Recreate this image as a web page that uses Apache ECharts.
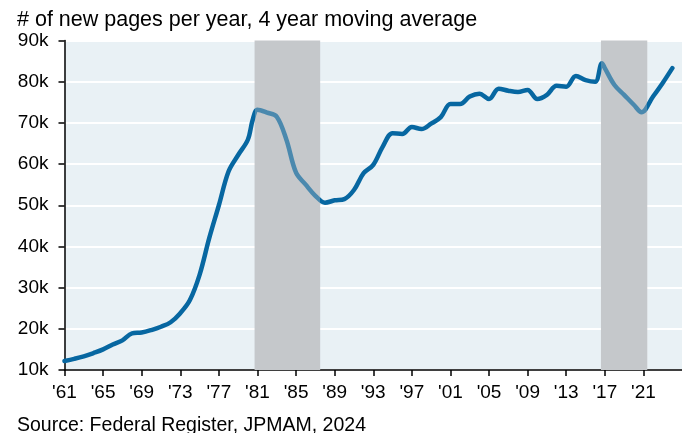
<!DOCTYPE html>
<html>
<head>
<meta charset="utf-8">
<script src="https://cdn.jsdelivr.net/npm/echarts@6/dist/echarts.min.js"></script>
<style>
  html, body { margin: 0; padding: 0; background: #fff; }
  #chart { width: 682px; height: 433px; }
</style>
</head>
<body>
<div id="chart"></div>
<script>
// years and new pages per year (thousands), 4 year moving average
const years = [1961, 1962, 1963, 1964, 1965, 1966, 1967, 1968, 1969, 1970,
  1971, 1972, 1973, 1974, 1975, 1976, 1977, 1978, 1979, 1980, 1980.5,
  1981, 1982, 1983, 1984, 1985, 1986, 1987, 1988, 1989, 1990,
  1991, 1992, 1993, 1994, 1995, 1996, 1997, 1998, 1999, 2000,
  2001, 2002, 2003, 2004, 2005, 2006, 2007, 2008, 2009, 2010,
  2011, 2012, 2013, 2014, 2015, 2016, 2016.7, 2017, 2018, 2019, 2020, 2020.8,
  2022, 2023, 2024];
const pages = [12.2, 12.7, 13.3, 14.1, 15.0, 16.2, 17.2, 18.9, 19.1, 19.7,
  20.5, 21.6, 23.8, 27.0, 33.1, 42.0, 50.0, 58.2, 62.2, 65.9, 70.7,
  73.2, 72.5, 71.5, 65.9, 57.9, 55.0, 52.3, 50.6, 51.2, 51.5,
  53.7, 57.8, 59.8, 64.3, 67.5, 67.3, 69.0, 68.5, 69.8, 71.4,
  74.6, 74.6, 76.4, 77.1, 75.8, 78.3, 77.8, 77.5, 78.0, 75.8,
  76.8, 79.0, 78.8, 81.4, 80.4, 80.0, 84.5, 83.3, 79.2, 76.8, 74.4, 72.6,
  76.4, 79.7, 83.3];
// shaded periods (start year, end year)
const bands = [[1980.7, 1987.5], [2016.6, 2021.4]];

const xRange = [1961, 2025];
const yTicks = { min: 10, max: 90, step: 10 };

const lineDark = '#0767a1';
const lineInBand = '#4b89ae';

const chart = echarts.init(document.getElementById('chart'));
const font = 'Liberation Sans, Arial, sans-serif';

const option = {
  animation: false,
  textStyle: { fontFamily: font },
  title: [
    {
      text: '# of new pages per year, 4 year moving average',
      left: 12, top: 4,
      textStyle: { fontSize: 21.5, fontWeight: 'normal', color: '#000', fontFamily: font }
    },
    {
      text: 'Source: Federal Register, JPMAM, 2024',
      left: 12, top: 411,
      textStyle: { fontSize: 19.5, fontWeight: 'normal', color: '#000', fontFamily: font }
    }
  ],
  grid: {
    left: 64.5, right: 0, top: 40.5, bottom: 63,
    show: true, backgroundColor: '#e9f1f5', borderWidth: 0
  },
  xAxis: {
    type: 'value',
    min: xRange[0], max: xRange[1], interval: 4,
    axisLine: { show: true, lineStyle: { color: '#000', width: 1.5 } },
    axisTick: { show: true, length: 6, lineStyle: { color: '#000', width: 1.5 } },
    splitLine: { show: false },
    axisLabel: {
      showMaxLabel: false,
      color: '#000', fontSize: 19, margin: 13, fontFamily: font,
      formatter: v => "'" + String(v).slice(2)
    }
  },
  yAxis: {
    type: 'value',
    min: yTicks.min, max: yTicks.max, interval: yTicks.step,
    axisLine: { show: true, lineStyle: { color: '#000', width: 1.5 } },
    axisTick: { show: true, length: 6, lineStyle: { color: '#000', width: 1.5 } },
    splitLine: { show: true, lineStyle: { color: '#fff', width: 2 } },
    axisLabel: {
      color: '#000', fontSize: 19, margin: 16, fontFamily: font,
      formatter: v => v + 'k'
    }
  },
  series: [
    {
      type: 'line',
      data: years.map((y, i) => [y, pages[i]]),
      smooth: 0.35,
      showSymbol: false,
      lineStyle: { color: lineDark, width: 4.5, cap: 'round' },
      z: 3,
      markArea: {
        silent: true,
        itemStyle: { color: '#c5c8cb' },
        data: bands.map(b => [{ xAxis: b[0] }, { xAxis: b[1] }])
      }
    }
  ]
};
chart.setOption(option);

// fade the line where it runs through the grey bands:
// hard-edged horizontal gradient placed with the axis scale
const px = yr => chart.convertToPixel({ gridIndex: 0 }, [yr, yTicks.min])[0];
const x0 = px(xRange[0]);
const x1 = px(xRange[1]);
const off = yr => Math.min(1, Math.max(0, (px(yr) - x0) / (x1 - x0)));
const stops = [{ offset: 0, color: lineDark }];
bands.forEach(b => {
  stops.push({ offset: off(b[0]), color: lineDark });
  stops.push({ offset: off(b[0]), color: lineInBand });
  stops.push({ offset: off(b[1]), color: lineInBand });
  stops.push({ offset: off(b[1]), color: lineDark });
});
stops.push({ offset: 1, color: lineDark });

chart.setOption({
  series: [{
    lineStyle: { color: new echarts.graphic.LinearGradient(x0, 0, x1, 0, stops, true) }
  }]
});
</script>
</body>
</html>
